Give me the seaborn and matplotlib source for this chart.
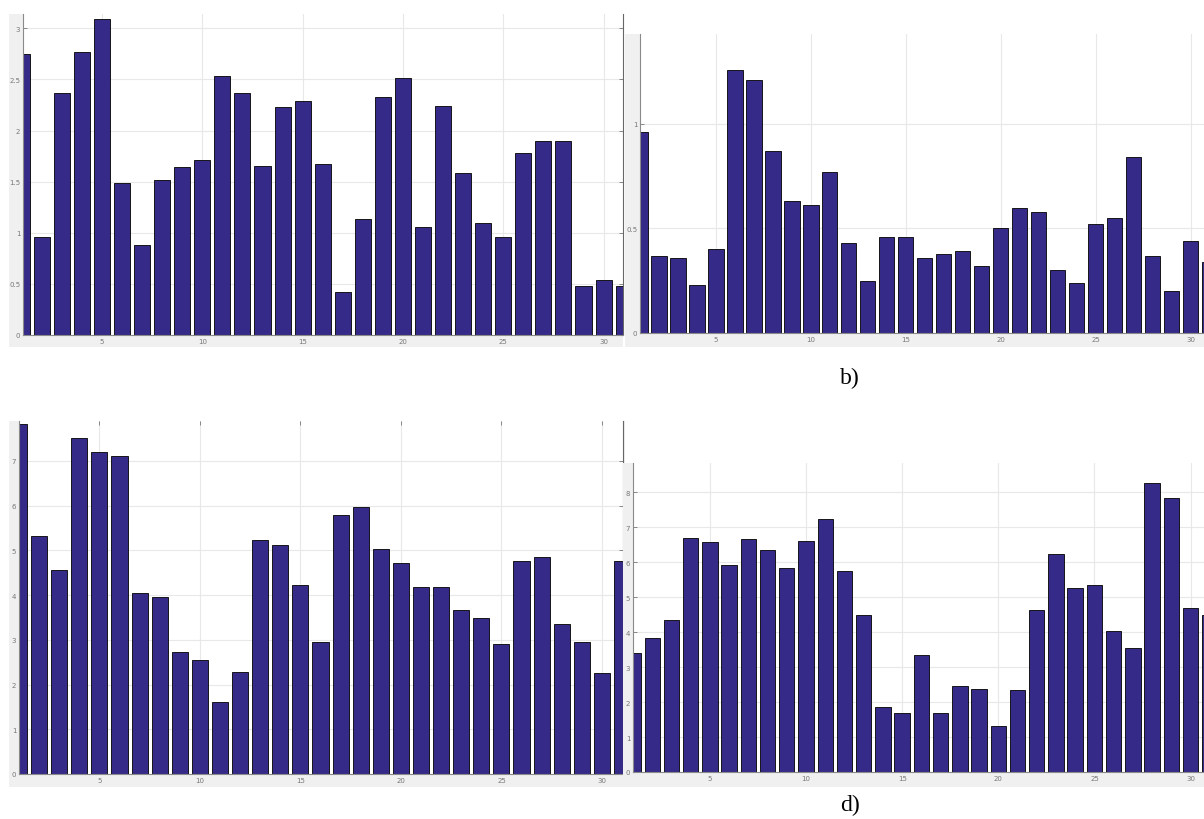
import numpy as np
import pandas as pd
import matplotlib
matplotlib.use("Agg")
import matplotlib.pyplot as plt
import seaborn as sns

# ---- data (bar index 1..31) ----
idx = list(range(1, 32))

vals_a = [2.75, 0.96, 2.37, 2.77, 3.09, 1.49, 0.88, 1.52, 1.64, 1.71,
          2.53, 2.37, 1.65, 2.23, 2.29, 1.67, 0.42, 1.13, 2.33, 2.51,
          1.06, 2.24, 1.58, 1.10, 0.96, 1.78, 1.90, 1.90, 0.48, 0.54, 0.48]

vals_b = [0.96, 0.37, 0.36, 0.23, 0.40, 1.26, 1.21, 0.87, 0.63, 0.61,
          0.77, 0.43, 0.25, 0.46, 0.46, 0.36, 0.38, 0.39, 0.32, 0.50,
          0.60, 0.58, 0.30, 0.24, 0.52, 0.55, 0.84, 0.37, 0.20, 0.44, 0.34]

vals_c = [7.82, 5.31, 4.56, 7.51, 7.20, 7.11, 4.04, 3.95, 2.72, 2.54,
          1.62, 2.28, 5.23, 5.11, 4.23, 2.96, 5.78, 5.96, 5.02, 4.72,
          4.18, 4.17, 3.67, 3.49, 2.90, 4.76, 4.86, 3.36, 2.95, 2.26, 4.77]

vals_d = [3.41, 3.83, 4.36, 6.69, 6.59, 5.92, 6.68, 6.35, 5.83, 6.62,
          7.23, 5.75, 4.48, 1.86, 1.70, 3.35, 1.68, 2.47, 2.38, 1.33,
          2.34, 4.63, 6.23, 5.26, 5.34, 4.03, 3.56, 8.28, 7.83, 4.68, 4.48]

xticks = [5, 10, 15, 20, 25, 30]
yticks_a = [0, 0.5, 1, 1.5, 2, 2.5, 3]
yticks_b = [0, 0.5, 1]
yticks_c = [0, 1, 2, 3, 4, 5, 6, 7]
yticks_d = [0, 1, 2, 3, 4, 5, 6, 7, 8]

BAR = "#352A87"
FIG_BG = "#F0F0F0"
W, H = 1204, 820

fig = plt.figure(figsize=(W / 100, H / 100), dpi=100)
fig.patch.set_facecolor("white")


def px_axes(x0, y0, x1, y1, **kw):
    """axes from pixel box (top-left origin)."""
    return fig.add_axes([x0 / W, 1 - y1 / H, (x1 - x0) / W, (y1 - y0) / H], **kw)


def panel(vals, yticks, gray_box, plot_box, xlim, ylim, right_spine, top_ticks):
    # gray MATLAB-style figure background behind the axes
    g = px_axes(*gray_box)
    g.set_facecolor(FIG_BG)
    g.set_xticks([])
    g.set_yticks([])
    for s in g.spines.values():
        s.set_visible(False)

    ax = px_axes(*plot_box)
    df = pd.DataFrame({"idx": idx, "val": vals})
    sns.barplot(data=df, x="idx", y="val", native_scale=True, color=BAR,
                saturation=1, width=0.8, edgecolor="black", linewidth=0.6, ax=ax)
    ax.set_xlim(*xlim)
    ax.set_ylim(*ylim)
    ax.set_xticks(xticks)
    ax.set_yticks(yticks)
    ax.set_yticklabels([f"{t:g}" for t in yticks])
    ax.set_xlabel("")
    ax.set_ylabel("")
    ax.set_facecolor("white")
    ax.grid(True, color="#e8e8e8", linewidth=0.8)
    ax.set_axisbelow(True)
    ax.tick_params(axis="both", labelsize=5, colors="#777777", length=3,
                   direction="in", pad=2, width=0.6)
    ax.tick_params(axis="y", right=right_spine)
    ax.tick_params(axis="x", top=top_ticks)
    ax.spines["top"].set_visible(False)
    ax.spines["right"].set_visible(right_spine)
    ax.spines["right"].set_color("#666666")
    ax.spines["left"].set_color("#8a8a8a")
    ax.spines["bottom"].set_color("#8a8a8a")
    for s in ax.spines.values():
        s.set_linewidth(0.8)
    return ax


panel(vals_a, yticks_a, (9, 15, 623, 348), (23, 15, 623, 336),
      (1.06, 30.97), (0, 3.14), True, False)
panel(vals_b, yticks_b, (625, 35, 1204, 348), (640, 35, 1204, 334),
      (1.0, 30.7), (0, 1.43), False, False)
panel(vals_c, yticks_c, (9, 422, 625, 788), (19, 422, 623, 775),
      (1.0, 31.05), (0, 7.89), True, True)
panel(vals_d, yticks_d, (623, 464, 1204, 788), (633, 464, 1204, 773),
      (1.0, 30.7), (0, 8.84), False, False)

fig.text(850 / W, 1 - 378 / H, "b)", ha="center", va="center",
         fontsize=17, family="Liberation Serif")
fig.text(850 / W, 1 - 805 / H, "d)", ha="center", va="center",
         fontsize=17, family="Liberation Serif")

fig.savefig("out.png", dpi=100)
